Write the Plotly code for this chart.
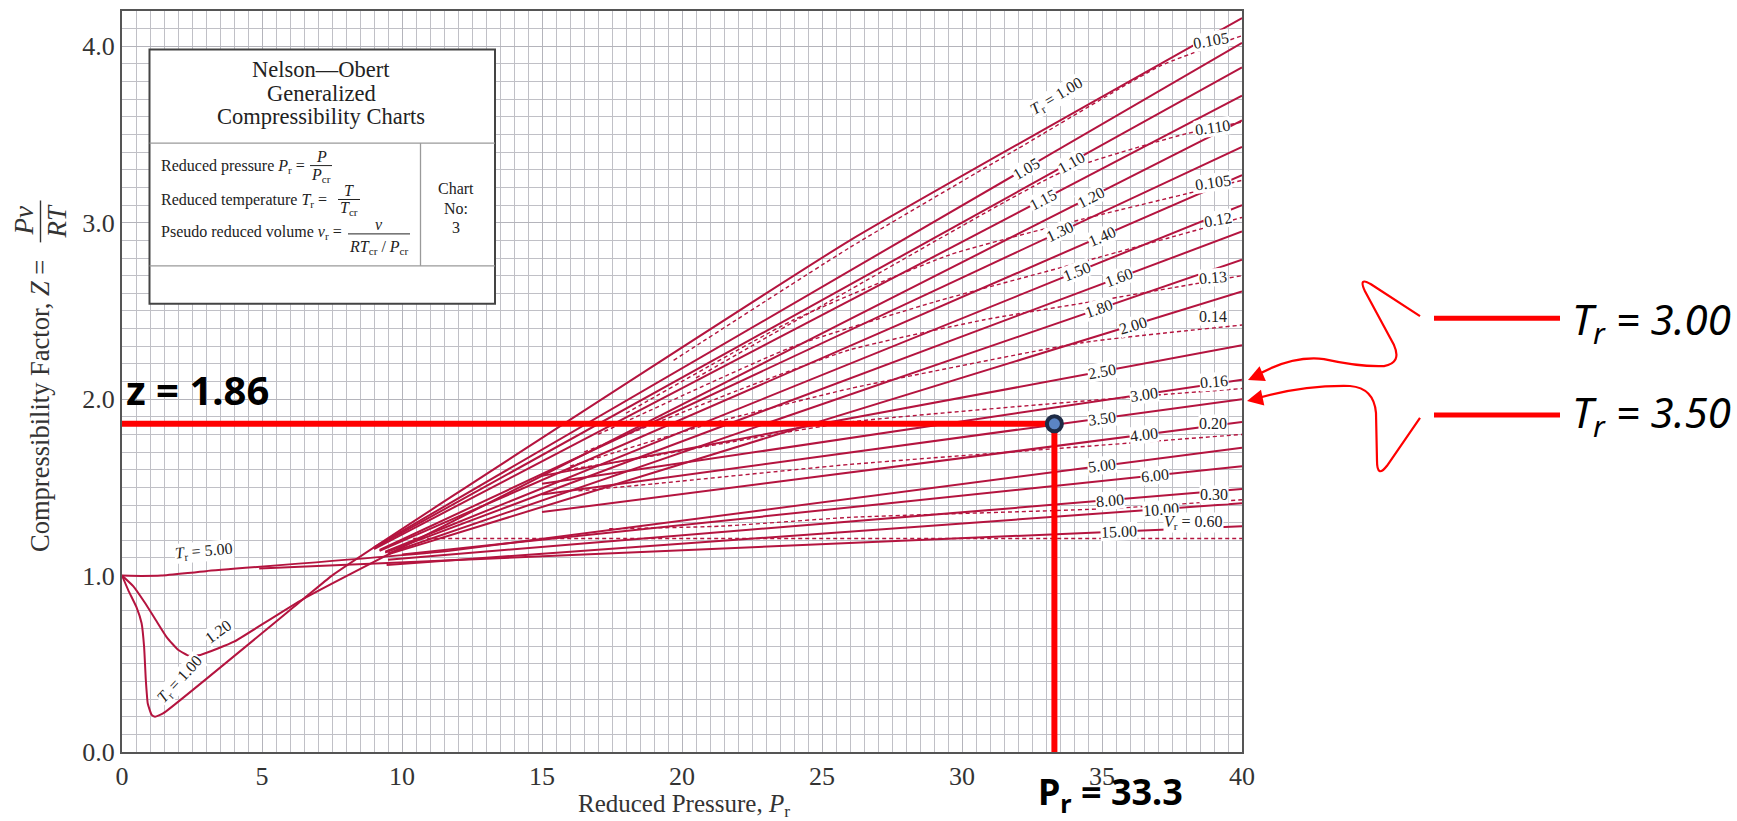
import math
import numpy as np
import plotly.graph_objects as go

# ---------------- data ----------------
# straight isotherms above Pr ~ 9: start point and value at Pr = 40
tr_names = ["1.05", "1.10", "1.15", "1.30", "1.40", "1.50", "1.60", "1.80", "2.00",
            "2.50", "3.00", "3.50", "4.00", "6.00", "8.00", "10.00", "15.00"]
tr_start_pr = [9.0, 9.0, 9.0, 9.2, 9.2, 9.4, 9.4, 9.5, 9.5,
               15.0, 15.0, 15.0, 15.0, 10.0, 9.5, 9.45, 4.9]
tr_start_z = [1.16, 1.155, 1.15, 1.145, 1.14, 1.135, 1.13, 1.125, 1.12,
              1.565, 1.52, 1.46, 1.36, 1.12, 1.09, 1.06, 1.04]
tr_end_z = [4.02, 3.88, 3.72, 3.43, 3.27, 3.10, 2.95, 2.79, 2.61,
            2.305, 2.11, 2.00, 1.87, 1.62, 1.49, 1.41, 1.28]
# where each isotherm carries its value label
tr_label_pr = [32.3, 33.9, 32.9, 33.5, 35.0, 34.1, 35.6, 34.9, 36.1,
               35.0, 36.5, 35.0, 36.5, 36.9, 35.3, 37.1, 35.6]

# isotherms drawn from Pr = 0
tr100_pr = [0, 0.23, 0.52, 0.70, 0.79, 0.85, 0.92, 1.06, 1.18, 1.48, 6.5, 7.5, 11.7, 26.0, 40.0]
tr100_z = [1.0, 0.915, 0.82, 0.73, 0.595, 0.41, 0.275, 0.21, 0.20, 0.22, 0.87, 1.0, 1.44, 2.90, 4.16]
tr120_pr = [0, 0.4, 0.8, 1.2, 1.6, 2.0, 2.4, 2.8, 3.4, 4.0, 6.5, 40.0]
tr120_z = [1.0, 0.94, 0.85, 0.75, 0.65, 0.58, 0.545, 0.55, 0.585, 0.625, 0.87, 3.58]
tr120_label_pr = 34.6
tr500_pr = [0, 0.7, 1.4, 3.0, 11.7, 40.0]
tr500_z = [1.0, 0.998, 1.0, 1.025, 1.14, 1.725]
tr500_label_pr = 35.0

# pseudo reduced volume lines (dashed)
vr_names = ["0.105", "0.110", "0.105", "0.12", "0.13", "0.14", "0.16", "0.20", "0.30",
            "<i>V</i><sub>r</sub> = 0.60"]
vr_pr = [
    [19.7, 26.0, 32.0, 37.1, 40.0],
    [20.5, 26.0, 33.6, 37.9, 40.0],
    [18.0, 24.0, 29.6, 34.3, 40.0],
    [17.0, 24.0, 29.0, 34.8, 40.0],
    [16.5, 22.0, 26.0, 30.8, 35.3, 40.0],
    [16.0, 21.0, 26.0, 34.3, 40.0],
    [15.9, 18.3, 26.0, 36.7, 40.0],
    [16.3, 19.0, 26.0, 35.9, 40.0],
    [17.4, 21.4, 26.0, 35.3, 40.0],
    [10.4, 40.0],
]
vr_z = [
    [2.22, 2.86, 3.42, 3.89, 4.06],
    [2.12, 2.62, 3.29, 3.50, 3.57],
    [1.92, 2.45, 2.82, 3.02, 3.24],
    [1.80, 2.30, 2.55, 2.80, 3.03],
    [1.70, 2.05, 2.28, 2.45, 2.57, 2.70],
    [1.62, 1.86, 2.06, 2.32, 2.42],
    [1.60, 1.66, 1.87, 2.02, 2.06],
    [1.48, 1.52, 1.63, 1.75, 1.80],
    [1.265, 1.28, 1.33, 1.38, 1.43],
    [1.21, 1.21],
]
vr_label_pr = [38.9, 38.95, 38.95, 39.15, 38.95, 38.95, 39.0, 38.95, 39.0, 38.25]
vr_label_z = [4.03, 3.54, 3.23, 3.02, 2.69, 2.47, 2.10, 1.86, 1.46, 1.30]
vr_label_angle = [-10, -8, -8, -10, -5, 0, -5, 0, 0, 0]

# worked example
pr_read = 33.3
z_read = 1.86

x_ticks = [0, 5, 10, 15, 20, 25, 30, 35, 40]
y_ticks = [0, 1, 2, 3, 4]
y_ticktext = ["0.0", "1.0", "2.0", "3.0", "4.0"]

# ---------------- geometry ----------------
W, H = 1737, 821
L, R, T, B = 122, 1242, 9, 752
XMAX, YMAX = 40.0, 4.2
PW, PH = R - L, B - T
UX, UY = PW / XMAX, PH / YMAX          # pixels per data unit


def dx(px):
    return (px - L) / UX


def dy(py):
    return (B - py) / UY


def qx(px):
    return (px - L) / PW


def qy(py):
    return (B - py) / PH


CRIMSON = "#B4143F"
SERIF = "Liberation Serif"
SANS = "Noto Sans"
INK = "#222222"

fig = go.Figure()

# isotherms
solid = dict(color=CRIMSON, width=2)
for pr, z in [(tr100_pr, tr100_z), (tr120_pr, tr120_z), (tr500_pr, tr500_z)]:
    fig.add_trace(go.Scatter(x=pr, y=z, mode="lines", line=dict(shape="spline", smoothing=0.4, **solid),
                             hoverinfo="skip"))
for p0, z0, z1 in zip(tr_start_pr, tr_start_z, tr_end_z):
    fig.add_trace(go.Scatter(x=[p0, XMAX], y=[z0, z1], mode="lines", line=solid, hoverinfo="skip"))

# constant reduced volume lines
for pr, z in zip(vr_pr, vr_z):
    fig.add_trace(go.Scatter(x=pr, y=z, mode="lines",
                             line=dict(color=CRIMSON, width=1.4, dash="4px,3px", shape="spline", smoothing=0.5),
                             hoverinfo="skip"))

# example reading lines and point
fig.add_trace(go.Scatter(x=[0, pr_read], y=[z_read, z_read], mode="lines",
                         line=dict(color="#FF0000", width=6), hoverinfo="skip"))
fig.add_trace(go.Scatter(x=[pr_read, pr_read], y=[0, z_read], mode="lines",
                         line=dict(color="#FF0000", width=6), hoverinfo="skip"))
fig.add_trace(go.Scatter(x=[pr_read], y=[z_read], mode="markers",
                         marker=dict(size=15, color="#5B84C4", line=dict(color="#1E2B46", width=4)),
                         hoverinfo="skip"))

ann = []
shapes = []


def text_d(x, y, text, size, family=SERIF, angle=0, xanchor="center", bg=None, color=INK):
    a = dict(x=x, y=y, xref="x", yref="y", text=text, showarrow=False, textangle=angle,
             xanchor=xanchor, yanchor="middle", font=dict(family=family, size=size, color=color))
    if bg:
        a.update(bgcolor=bg, borderpad=0)
    ann.append(a)


def text_p(px, py, text, size, family=SERIF, angle=0, xanchor="center", color=INK):
    ann.append(dict(x=qx(px), y=qy(py), xref="paper", yref="paper", text=text, showarrow=False,
                    textangle=angle, xanchor=xanchor, yanchor="middle",
                    font=dict(family=family, size=size, color=color)))


def label_angle(slope):
    return -math.degrees(math.atan(slope * UY / UX))


# isotherm labels sitting on their lines
for name, p0, z0, z1, lp in zip(tr_names, tr_start_pr, tr_start_z, tr_end_z, tr_label_pr):
    s = (z1 - z0) / (XMAX - p0)
    text_d(lp, z0 + s * (lp - p0), name, 16, angle=label_angle(s), bg="white")
s120 = (tr120_z[-1] - tr120_z[-2]) / (tr120_pr[-1] - tr120_pr[-2])
text_d(tr120_label_pr, float(np.interp(tr120_label_pr, tr120_pr, tr120_z)), "1.20", 16,
       angle=label_angle(s120), bg="white")
s500 = (tr500_z[-1] - tr500_z[-2]) / (tr500_pr[-1] - tr500_pr[-2])
text_d(tr500_label_pr, float(np.interp(tr500_label_pr, tr500_pr, tr500_z)), "5.00", 16,
       angle=label_angle(s500), bg="white")

# extra isotherm captions
for txt, px, py, ang in [("<i>T</i><sub>r</sub> = 1.00", 1057, 95, -31),
                         ("<i>T</i><sub>r</sub> = 5.00", 204, 551, -5),
                         ("1.20", 218, 631, -36),
                         ("<i>T</i><sub>r</sub> = 1.00", 180, 679, -47)]:
    text_d(dx(px), dy(py), txt, 16, angle=ang, bg="white")

# reduced volume labels
for name, lx, lz, ang in zip(vr_names, vr_label_pr, vr_label_z, vr_label_angle):
    text_d(lx, lz, name, 16, angle=ang, bg="white")

# ---------------- info box ----------------
shapes.append(dict(type="rect", xref="x", yref="y", fillcolor="white",
                   line=dict(color="#444", width=2), layer="above",
                   x0=dx(149.5), x1=dx(495), y0=dy(302.5), y1=dy(47.6)))
for x0, y0, x1, y1 in [(149.5, 141.5, 495, 141.5), (149.5, 264.5, 495, 264.5), (420.5, 141.5, 420.5, 264.5)]:
    shapes.append(dict(type="line", xref="x", yref="y", x0=dx(x0), y0=dy(y0), x1=dx(x1), y1=dy(y1),
                       line=dict(color="#9a9a9a", width=1.3), layer="above"))
for txt, py in [("Nelson\u2014Obert", 68), ("Generalized", 92), ("Compressibility Charts", 115)]:
    text_d(dx(321), dy(py), txt, 22.5)
for txt, py in [("Reduced pressure <i>P</i><sub>r</sub> =", 165),
                ("Reduced temperature <i>T</i><sub>r</sub> =", 199),
                ("Pseudo reduced volume <i>v</i><sub>r</sub> =", 231)]:
    text_d(dx(159), dy(py), txt, 16, xanchor="left")
# small fractions
for num, den, cx, py_num, py_bar, py_den, half in [
        ("<i>P</i>", "<i>P</i><sub>cr</sub>", 321, 155, 164, 174, 11),
        ("<i>T</i>", "<i>T</i><sub>cr</sub>", 349, 189, 198, 207, 11),
        ("<i>v</i>", "<i>RT</i><sub>cr</sub> / <i>P</i><sub>cr</sub>", 379, 223, 232.5, 246, 31)]:
    text_d(dx(cx), dy(py_num), num, 16)
    text_d(dx(cx), dy(py_den), den, 16)
    shapes.append(dict(type="line", xref="x", yref="y", x0=dx(cx - half), x1=dx(cx + half),
                       y0=dy(py_bar), y1=dy(py_bar), line=dict(color=INK, width=1), layer="above"))
for txt, py in [("Chart", 187), ("No:", 207), ("3", 226)]:
    text_d(dx(456), dy(py), txt, 16)

# ---------------- axis titles ----------------
text_p(684, 806, "Reduced Pressure, <i>P</i><sub>r</sub>", 25, color="#333")
text_p(40, 405, "Compressibility Factor, <i>Z</i> =", 26.5, angle=-90, color="#333")
text_p(24, 220, "<i>Pv</i>", 27, angle=-90, color="#333")
text_p(57, 220, "<i>RT</i>", 27, angle=-90, color="#333")
shapes.append(dict(type="line", xref="paper", yref="paper", x0=qx(40.5), x1=qx(40.5), y0=qy(199), y1=qy(241),
                   line=dict(color="#333", width=1.4)))

# ---------------- reading annotations ----------------
text_p(124, 389, "<b>z = %.2f</b>" % z_read, 40, family=SANS, xanchor="left", color="black")
text_p(1036, 794, "<b>P<sub>r</sub> = %.1f</b>" % pr_read, 36, family=SANS, xanchor="left", color="black")
for txt, py in [("<i>T<sub>r</sub> = 3.00</i>", 320), ("<i>T<sub>r</sub> = 3.50</i>", 414)]:
    text_p(1570, py, txt, 42, family=SANS, xanchor="left", color="black")
for py in [317, 414]:
    shapes.append(dict(type="line", xref="paper", yref="paper", x0=qx(1434), x1=qx(1560),
                       y0=qy(py), y1=qy(py), line=dict(color="#FF0000", width=5)))


def path_paper(cmds):
    out = []
    for c in cmds:
        if isinstance(c, str):
            out.append(c)
        else:
            out.append("%.5f,%.5f" % (qx(c[0]), qy(c[1])))
    return " ".join(out)


curl_top = ["M", (1420, 315), "L", (1371, 283), "Q", (1358, 275), (1365, 290), "L", (1394, 344),
            "Q", (1402, 362), (1384, 365), "Q", (1360, 366), (1324, 358), "Q", (1290, 354), (1252, 377)]
curl_bot = ["M", (1420, 417), "L", (1387, 465), "Q", (1377, 478), (1377, 460), "L", (1376, 412),
            "Q", (1374, 387), (1350, 385), "Q", (1300, 384), (1252, 399)]
for cmds in (curl_top, curl_bot):
    shapes.append(dict(type="path", xref="paper", yref="paper", path=path_paper(cmds),
                       line=dict(color="#FF0000", width=2.2)))
for tx, ty, ax, ay in [(1248, 379, 14, -6), (1247, 400, 14, -3)]:
    ann.append(dict(x=qx(tx), y=qy(ty), xref="paper", yref="paper", text="", showarrow=True,
                    ax=ax, ay=ay, arrowhead=2, arrowsize=1.6, arrowwidth=2, arrowcolor="#FF0000"))

fig.update_layout(
    width=W, height=H,
    margin=dict(l=L, r=W - R, t=T, b=H - B, pad=0),
    paper_bgcolor="white", plot_bgcolor="white",
    showlegend=False, hovermode=False,
    annotations=ann, shapes=shapes,
    xaxis=dict(range=[0, XMAX], tickvals=x_ticks, ticks="", showgrid=True, gridcolor="#b4b4bb", gridwidth=1.4,
               minor=dict(dtick=0.5, showgrid=True, gridcolor="#c0c0c6", gridwidth=1.3),
               showline=True, linecolor="#555", linewidth=2, mirror=True, zeroline=False,
               tickfont=dict(family=SERIF, size=26, color="#333"), fixedrange=True),
    yaxis=dict(range=[0, YMAX], tickvals=y_ticks, ticktext=y_ticktext, ticks="", showgrid=True,
               gridcolor="#b4b4bb", gridwidth=1.4,
               minor=dict(dtick=0.1, showgrid=True, gridcolor="#c0c0c6", gridwidth=1.3),
               showline=True, linecolor="#555", linewidth=2, mirror=True, zeroline=False,
               tickfont=dict(family=SERIF, size=26, color="#333"), fixedrange=True),
)

fig.write_html("out.html", config={"displayModeBar": False})
